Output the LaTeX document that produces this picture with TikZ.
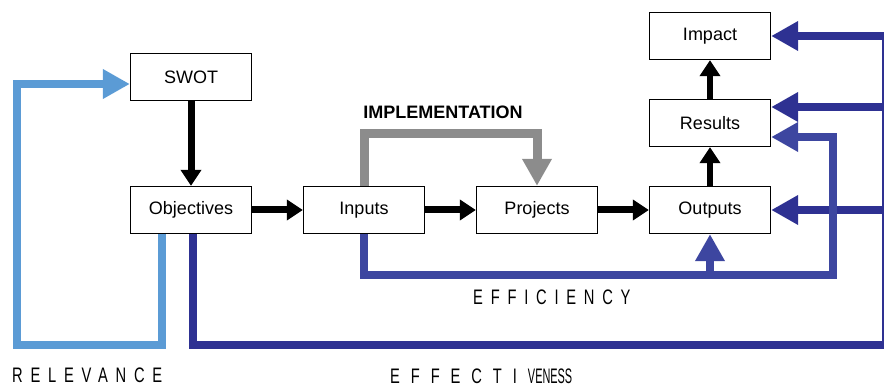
\documentclass[tikz,border=0pt]{standalone}
\usepackage{fontspec}
\setmainfont{Liberation Sans}
\newfontfamily\spacedfont[FakeStretch=0.7,LetterSpace=37]{Liberation Sans}
\newfontfamily\widefont[FakeStretch=0.7,LetterSpace=52]{Liberation Sans}
\newfontfamily\tightfont[FakeStretch=0.52]{Liberation Sans}
\usetikzlibrary{arrows.meta}
\definecolor{relblue}{HTML}{5B9BD5}
\definecolor{effblue}{HTML}{2E3192}
\definecolor{efcblue}{HTML}{3D46A0}
\definecolor{impgray}{HTML}{8C8C8C}
\begin{document}
\begin{tikzpicture}[x=1pt,y=-1pt,
  box/.style={draw, line width=1.3pt, minimum width=121pt, minimum height=47pt, inner sep=0pt, font=\fontsize{18}{20}\selectfont},
  blk/.style={line width=7pt, -{Triangle[width=20pt,length=16pt]}},
  fb/.style={line width=8pt, -{Triangle[width=28pt,length=27pt]}},
  spaced/.style={inner sep=0pt, anchor=base west, font=\fontsize{21}{22}\selectfont\spacedfont}]
\useasboundingbox (0,0) rectangle (884,387);
\node[box] (swot) at (191,77) {SWOT};
\node[box] (objectives) at (191,210) {Objectives};
\node[box] (inputs) at (364,210) {Inputs};
\node[box] (projects) at (537,210) {Projects};
\node[box] (outputs) at (710,210) {Outputs};
\node[box] (results) at (710,123) {Results};
\node[box] (impact) at (710,36) {Impact};
\coordinate (relcorner) at (17,345);
\coordinate (effcorner) at (886,345);
\coordinate (efccorner) at (833,275);
% feedback loops
\draw[fb, relblue] ([xshift=-29pt]objectives.south) |- (relcorner) |- ([yshift=-7pt]swot.west);
\draw[fb, effblue] ([xshift=2pt]objectives.south) |- (effcorner) |- (impact.east);
\draw[fb, effblue] (effcorner) |- ([yshift=16pt]results.east);
\draw[fb, effblue] (effcorner) |- (outputs.east);
\draw[fb, efcblue] (inputs.south) |- (efccorner) |- ([yshift=-14pt]results.east);
\draw[fb, efcblue] (outputs.south |- efccorner) -- (outputs.south);
\draw[fb, impgray, line width=9pt] (inputs.north) -- ++(0,-52) -| (projects.north);
% main chain
\draw[blk] (swot) -- (objectives);
\draw[blk] (objectives) -- (inputs);
\draw[blk] (inputs) -- (projects);
\draw[blk] (projects) -- (outputs);
\draw[blk, line width=6pt] (outputs) -- (results);
\draw[blk, line width=6pt] (results) -- (impact);
% labels
\node[inner sep=0pt, font=\fontsize{18}{20}\selectfont\bfseries] (implabel) at (443,112) {IMPLEMENTATION};
\node[spaced] (efclabel) at (473,305) {EFFICIENCY};
\node[spaced] (rellabel) at (12,382) {RELEVANCE};
\node[spaced] (efflabel) at (390,384) {{\widefont EFFECTI}\hspace{11pt}{\tightfont VENESS}};
\end{tikzpicture}
\end{document}
